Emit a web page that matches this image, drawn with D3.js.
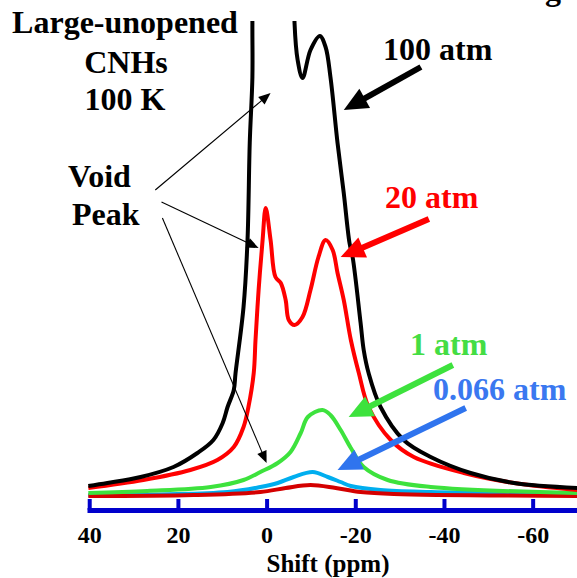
<!DOCTYPE html>
<html>
<head>
<meta charset="utf-8">
<script src="https://cdn.jsdelivr.net/npm/d3@7"></script>
<style>
  body { margin: 0; background: #fff; }
  text { font-family: "Liberation Serif", "Times New Roman", serif; font-weight: bold; }
</style>
</head>
<body>
<div id="nmr"></div>
<script>
// spectra: shift (ppm) and intensity (arbitrary units)
var shift100 = [40.2, 35.9, 28.4, 21.0, 15.6, 12.0, 9.9, 8.8, 7.4, 7.0, 5.2, 4.3, 3.8, 3.2, 3.2, 3.0,
                -6.2, -6.3, -7.0, -8.1, -9.9, -12.0, -13.3, -14.4, -16.0, -17.4, -18.7, -19.4, -21.2, -21.9,
                -23.0, -25.7, -30.9, -37.0, -46.0, -55.8, -70.2];
var int100 = [2.2, 2.8, 4.0, 6.0, 8.8, 11.4, 14.8, 18.0, 21.4, 24.8, 38.0, 51.4, 70.8, 84, 94.8, 110,
              110, 94.8, 87.4, 83.8, 89.4, 92.2, 90, 84, 70.8, 60.8, 50.8, 48, 34.8, 29.4,
              24.8, 18, 11.4, 8, 4.8, 2.8, 1.8];

var shift20 = [40.2, 27.8, 17.2, 11.1, 7.4, 5.2, 4.1, 2.9, 2.5, 1.8, 0.9, 0.2, -0.9, -2.0, -3.2, -4.3,
               -5.0, -6.3, -8.1, -9.9, -11.7, -13.3, -14.9, -16.0, -17.4, -19.0, -20.8, -23.0, -28.0,
               -33.2, -44.5, -55.8, -70.2];
var int20 = [1.8, 3.4, 5.4, 7.4, 10, 14, 18, 24.8, 31.4, 41.4, 51.4, 57.8, 51.4, 44, 42.8, 39.4,
             35.4, 34.4, 36, 41.4, 48, 51.4, 49.4, 44.8, 39.4, 31.4, 24.8, 18, 11.4,
             8, 4.8, 2.8, 1.4];

var shift1 = [40.2, 26.9, 12.6, 5.2, 1.4, -2.5, -5.4, -7.7, -9.3, -12.6, -14.4, -16.7, -19.0, -21.9, -27.3, -37.0, -70.2];
var int1 = [0.8, 1.2, 2, 3.4, 5, 6.8, 9, 12.8, 16, 17.4, 16.4, 13.4, 9.8, 6, 3.4, 2, 0.8];

var shift066 = [40.2, 8.8, 1.4, -2.5, -6.1, -10.4, -13.8, -16.7, -19.0, -25.7, -37.0, -70.2];
var int066 = [0.4, 1, 2, 2.8, 4, 5, 4, 3, 2.2, 1.4, 1, 0.6];

var shiftLow = [40.2, 16.5, 1.4, -4.3, -9.9, -15.6, -21.2, -28.7, -70.2];
var intLow = [0.2, 0.4, 1, 1.8, 2.4, 1.8, 1, 0.6, 0.2];

var tickValues = [40, 20, 0, -20, -40, -60];

// annotation arrows, in data units: [fromShift, fromInt, toShift, toInt]
var bigArrows = [
  {c: "#000000", p: [-34.8, 86, -17.4, 77.4]},
  {c: "#ff0000", p: [-36.6, 55.6, -16.7, 48]},
  {c: "#3de23d", p: [-42, 26.4, -18.5, 16]},
  {c: "#2f74ee", p: [-44.9, 17.8, -16.0, 5.4]}
];
var thinArrows = [
  [25.1, 61.4, -0.9, 80.8],
  [23.7, 59, 1.8, 49.8],
  [23.5, 55.8, 0, 6.8]
];

var width = 577, height = 578;

var svg = d3.select("#nmr")
  .append("svg")
    .attr("width", width)
    .attr("height", height);

svg.append("rect")
    .attr("width", width).attr("height", height)
    .attr("fill", "#fff");

var x = d3.scaleLinear().domain([40.5, -70]).range([87, 577]);
var y = d3.scaleLinear().domain([0, 95]).range([497, 22]);

svg.append("clipPath").attr("id", "clip")
  .append("rect")
    .attr("x", 0).attr("y", y(95.2))
    .attr("width", width).attr("height", height);

var line = d3.line()
    .curve(d3.curveCatmullRom.alpha(0.5))
    .x(function(d) { return x(d[0]); })
    .y(function(d) { return y(d[1]); });

function pairs(s, v) { return s.map(function(d, i) { return [d, v[i]]; }); }

var series = [
  {s: shift066, v: int066, c: "#00aeef"},
  {s: shiftLow, v: intLow, c: "#d40000"},
  {s: shift1, v: int1, c: "#3de23d"},
  {s: shift20, v: int20, c: "#ff0000"},
  {s: shift100, v: int100, c: "#000000"}
];

var plot = svg.append("g").attr("clip-path", "url(#clip)");
series.forEach(function(d) {
  plot.append("path")
      .datum(pairs(d.s, d.v))
      .attr("d", line)
      .attr("fill", "none")
      .attr("stroke", d.c)
      .attr("stroke-width", 4)
      .attr("stroke-linejoin", "round");
});

// x axis, ticks pointing up
var axis = svg.append("g")
    .attr("transform", "translate(0,510)")
    .call(d3.axisBottom(x)
      .tickValues(tickValues)
      .tickSizeInner(-11)
      .tickSizeOuter(0)
      .tickPadding(16)
      .tickFormat(function(d) { return d < 0 ? "-" + Math.abs(d) : d; }));

axis.select(".domain").attr("stroke", "#0000cc").attr("stroke-width", 5);
axis.selectAll(".tick line").attr("stroke", "#0000cc").attr("stroke-width", 4);
axis.selectAll(".tick text")
    .attr("fill", "#000")
    .style("font-size", "24px")
    .style("font-family", "Liberation Serif, serif")
    .style("font-weight", "bold");

svg.append("text")
    .attr("x", 328).attr("y", 572)
    .attr("text-anchor", "middle")
    .style("font-size", "25px")
    .text("Shift (ppm)");

// arrows
function arrow(p, color, w, headLen, headW) {
  var x1 = x(p[0]), y1 = y(p[1]), x2 = x(p[2]), y2 = y(p[3]);
  var a = Math.atan2(y2 - y1, x2 - x1);
  var bx = x2 - headLen * Math.cos(a), by = y2 - headLen * Math.sin(a);
  svg.append("line")
      .attr("x1", x1).attr("y1", y1)
      .attr("x2", bx + Math.cos(a)).attr("y2", by + Math.sin(a))
      .attr("stroke", color)
      .attr("stroke-width", w);
  var nx = -Math.sin(a) * headW, ny = Math.cos(a) * headW;
  svg.append("path")
      .attr("d", "M" + x2 + "," + y2 +
                 "L" + (bx + nx) + "," + (by + ny) +
                 "L" + (bx - nx) + "," + (by - ny) + "Z")
      .attr("fill", color);
}

bigArrows.forEach(function(d) { arrow(d.p, d.c, 6, 24, 11); });
thinArrows.forEach(function(d) { arrow(d, "#000", 1.1, 12, 5); });

// labels
var labels = [
  {t: "Large-unopened", x: 125, y: 33, a: "middle", c: "#000"},
  {t: "CNHs", x: 126, y: 73, a: "middle", c: "#000"},
  {t: "100 K", x: 125, y: 110, a: "middle", c: "#000"},
  {t: "Void", x: 68, y: 187, a: "start", c: "#000"},
  {t: "Peak", x: 72, y: 225, a: "start", c: "#000"},
  {t: "100 atm", x: 383, y: 60, a: "start", c: "#000"},
  {t: "20 atm", x: 385, y: 208, a: "start", c: "#ff0000"},
  {t: "1 atm", x: 410, y: 355, a: "start", c: "#44dd44"},
  {t: "0.066 atm", x: 433, y: 400, a: "start", c: "#3a78f0"},
  {t: "g", x: 553, y: 0, a: "middle", c: "#000"}
];

svg.selectAll(".lab")
  .data(labels)
  .enter().append("text")
    .attr("class", "lab")
    .attr("x", function(d) { return d.x; })
    .attr("y", function(d) { return d.y; })
    .attr("text-anchor", function(d) { return d.a; })
    .attr("fill", function(d) { return d.c; })
    .style("font-size", "32px")
    .text(function(d) { return d.t; });
</script>
</body>
</html>
